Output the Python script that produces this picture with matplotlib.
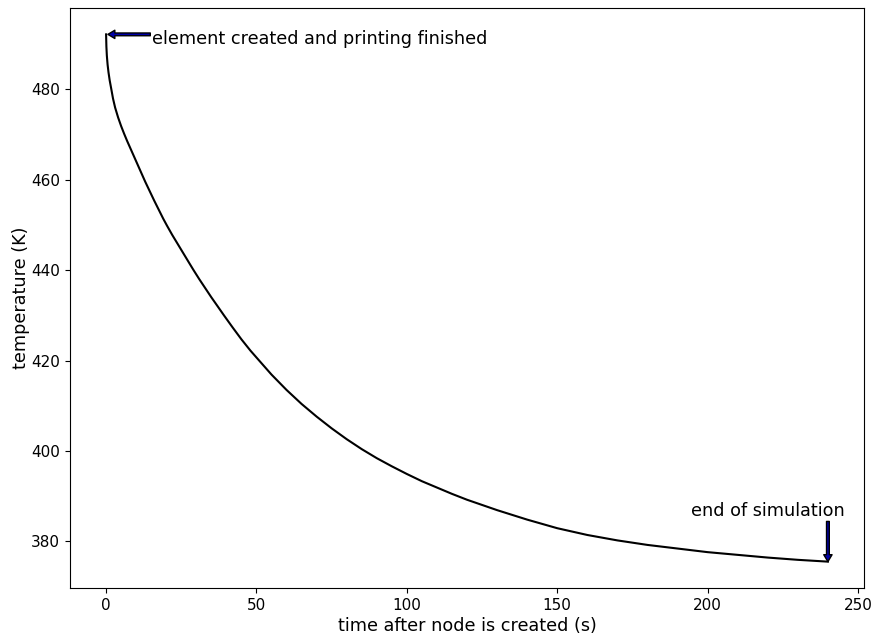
import matplotlib
matplotlib.use("Agg")
import matplotlib.pyplot as plt

# time after node is created (s)
time_s = [0, 0.1, 0.25, 0.5, 0.8, 1.2, 1.7, 2.3, 3.0, 4.0, 5.0, 6.0, 7.0, 8.0, 9.0,
          10.0, 11.0, 12.0, 13.0, 14.0, 15.0, 16.0, 17.5, 19.0, 20.3, 22.0, 24.0,
          26.0, 28.0, 29.1, 31.0, 33.0, 35.0, 37.0, 39.2, 42.0, 45.0, 48.0, 50.9,
          55.0, 60.0, 65.0, 70.0, 75.0, 80.0, 85.0, 90.0, 95.0, 100.0, 105.0,
          110.0, 115.0, 120.0, 130.0, 140.0, 150.0, 160.0, 170.0, 180.0, 190.0,
          200.0, 210.0, 220.0, 230.0, 240.0]
# temperature (K)
temp_K = [492.2, 489.5, 487.5, 485.5, 483.8, 482.0, 480.2, 478.0, 476.0, 473.8,
          471.9, 470.2, 468.6, 467.1, 465.6, 464.1, 462.6, 461.1, 459.6, 458.2,
          456.8, 455.4, 453.4, 451.4, 449.8, 447.8, 445.6, 443.4, 441.2, 440.0,
          438.0, 436.0, 434.0, 432.1, 430.0, 427.4, 424.7, 422.2, 420.0, 416.9,
          413.5, 410.4, 407.6, 405.0, 402.6, 400.4, 398.4, 396.6, 394.9, 393.3,
          391.9, 390.5, 389.2, 386.9, 384.8, 382.9, 381.4, 380.2, 379.2, 378.4,
          377.6, 377.0, 376.4, 375.9, 375.5]

label_start = "element created and printing finished"
label_end = "end of simulation"

fig = plt.figure(figsize=(8.72, 6.34), dpi=100)
ax = fig.add_axes([70/872, 1-588/634, (864-70)/872, (588-8)/634])
ax.plot(time_s, temp_K, color="black", linewidth=1.5)

arrow = dict(facecolor="#0000a8", edgecolor="black", width=2, headwidth=6,
             headlength=5, linewidth=1.0)
ax.annotate("", xy=(time_s[0] + 0.6, temp_K[0]), xytext=(14.7, temp_K[0]),
            arrowprops=arrow)
ax.text(15.4, 491.1, label_start, fontsize=12.7, va="center", ha="left")
ax.annotate("", xy=(time_s[-1], temp_K[-1]), xytext=(time_s[-1], 384.4),
            arrowprops=arrow)
ax.text(194.6, 384.8, label_end, fontsize=12.7, va="bottom", ha="left")

ax.set_xlabel("time after node is created (s)", fontsize=12.7, labelpad=3)
ax.set_ylabel("temperature (K)", fontsize=12.7, labelpad=1)
ax.tick_params(labelsize=11)

fig.savefig("out.png", dpi=100)
